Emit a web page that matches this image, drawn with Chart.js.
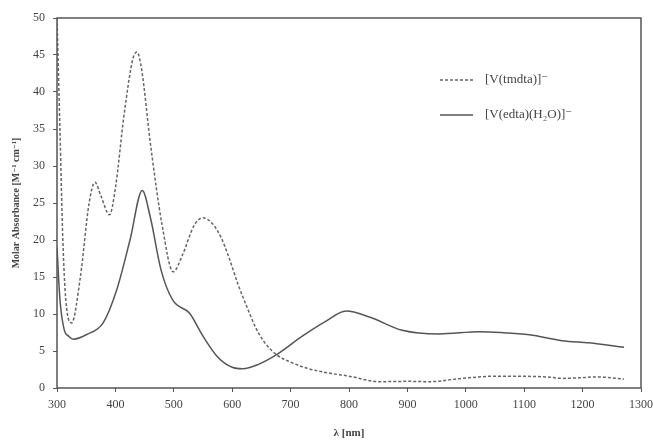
<!DOCTYPE html>
<html>
<head>
<meta charset="utf-8">
<script src="https://cdn.jsdelivr.net/npm/chart.js@4"></script>
<style>
  html, body { margin: 0; padding: 0; background: #fff; }
  #wrap { width: 653px; height: 444px; }
</style>
</head>
<body>
<div id="wrap"><canvas id="spectrum"></canvas></div>
<script>
// wavelength (nm) / molar absorbance
const tmdtaX = [300, 305, 310, 315, 325, 340, 355, 365, 375, 390, 400, 415, 430, 437, 445, 460, 480, 499, 515, 535, 550, 565, 580, 595, 610, 625, 640, 655, 676, 700, 727, 767, 800, 852, 900, 937, 994, 1052, 1137, 1166, 1200, 1223, 1271];
const tmdtaY = [50, 35, 20, 12, 8.8, 15, 25, 27.8, 26, 23.4, 27, 37, 44.5, 45.4, 43, 33, 22, 15.7, 18, 22, 23, 22.3, 20.5, 17.5, 14, 11, 8.2, 6.2, 4.5, 3.5, 2.7, 2.0, 1.6, 0.85, 0.9, 0.85, 1.3, 1.6, 1.5, 1.3, 1.4, 1.5, 1.2];

const edtaX = [300, 305, 312, 320, 328, 350, 379, 402, 425, 446, 460, 478, 498, 527, 550, 575, 600, 618, 645, 676, 720, 760, 795, 835, 891, 955, 1023, 1060, 1109, 1165, 1211, 1271];
const edtaY = [19, 12, 8, 7, 6.6, 7.2, 8.8, 13.2, 20, 26.7, 23, 16, 11.9, 10.1, 7, 4.2, 2.8, 2.6, 3.2, 4.5, 7, 9, 10.4, 9.6, 7.8, 7.3, 7.6, 7.5, 7.2, 6.4, 6.1, 5.5];

const seriesNames = ['[V(tmdta)]\u207B', '[V(edta)(H\u2082O)]\u207B'];

const ink = '#555';
const serif = "'Liberation Serif', 'DejaVu Serif', serif";

function toPoints(xs, ys) {
  return xs.map((x, i) => ({ x: x, y: ys[i] }));
}

// frame around the plot + legend inside the plot area
const framePlugin = {
  id: 'frame',
  afterDraw(chart) {
    const c = chart.ctx, a = chart.chartArea;
    c.save();
    c.strokeStyle = ink;
    c.lineWidth = 1.5;
    c.strokeRect(a.left, a.top, a.right - a.left, a.bottom - a.top);

    c.font = '13px ' + serif;
    c.fillStyle = '#444';
    c.textBaseline = 'middle';
    chart.data.datasets.forEach((ds, i) => {
      const y = 80 + i * 35;
      c.beginPath();
      c.strokeStyle = ds.borderColor;
      c.lineWidth = ds.borderWidth;
      c.setLineDash(ds.borderDash || []);
      c.moveTo(440, y);
      c.lineTo(473, y);
      c.stroke();
      c.setLineDash([]);
      c.fillText(ds.label, 485, y);
    });
    c.restore();
  }
};

new Chart(document.getElementById('spectrum'), {
  type: 'line',
  data: {
    datasets: [
      {
        label: seriesNames[0],
        data: toPoints(tmdtaX, tmdtaY),
        borderColor: '#666',
        borderWidth: 1.5,
        borderDash: [3, 2],
        pointRadius: 0,
        cubicInterpolationMode: 'monotone',
        fill: false
      },
      {
        label: seriesNames[1],
        data: toPoints(edtaX, edtaY),
        borderColor: '#555',
        borderWidth: 1.5,
        pointRadius: 0,
        cubicInterpolationMode: 'monotone',
        fill: false
      }
    ]
  },
  plugins: [framePlugin],
  options: {
    responsive: true,
    maintainAspectRatio: false,
    animation: false,
    layout: { padding: { top: 18, right: 0, left: 0, bottom: 0 } },
    scales: {
      x: {
        type: 'linear',
        min: 300,
        max: 1300,
        border: { display: false },
        grid: { drawOnChartArea: false, tickLength: 4, color: ink },
        ticks: { stepSize: 100, color: '#444', font: { family: serif, size: 12 }, padding: 6, callback: v => String(v) },
        title: { display: true, text: '\u03BB [nm]', color: '#444', font: { family: serif, size: 11, weight: 'bold' }, padding: { top: 8 } },
        afterFit(scale) { scale.height = 56; scale.paddingRight = 12; }
      },
      y: {
        min: 0,
        max: 50,
        border: { display: false },
        grid: { drawOnChartArea: false, tickLength: 4, color: ink },
        ticks: { stepSize: 5, color: '#444', font: { family: serif, size: 12 }, padding: 8 },
        title: { display: true, text: 'Molar Absorbance [M\u207B\u00B9 cm\u207B\u00B9]', color: '#444', font: { family: serif, size: 10, weight: 'bold' }, padding: { top: 10, bottom: 0 } },
        afterFit(scale) { scale.width = 57; }
      }
    },
    plugins: {
      legend: { display: false },
      tooltip: { enabled: false }
    }
  }
});
</script>
</body>
</html>
